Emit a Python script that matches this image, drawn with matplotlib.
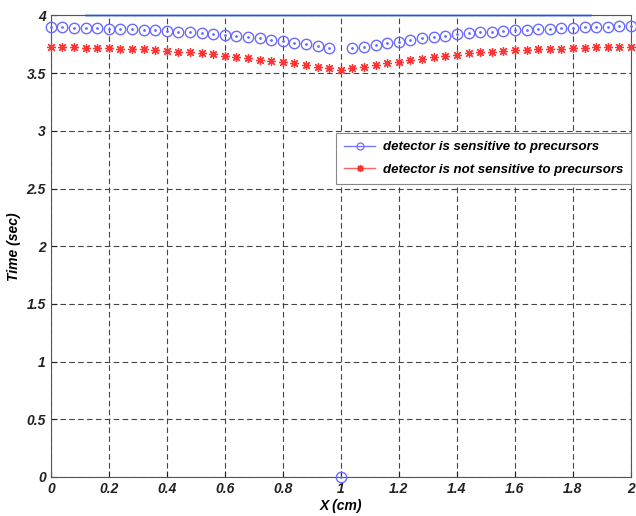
import matplotlib
matplotlib.use('Agg')
import matplotlib.pyplot as plt
from matplotlib.lines import Line2D
import numpy as np

plt.rcParams.update({
    'font.family': ['Liberation Sans', 'DejaVu Sans'],
    'font.weight': 'bold',
    'font.style': 'italic',
    'axes.labelweight': 'bold',
})

# ── data ──
x = [round(0.04 * i, 2) for i in range(51)]

t_sensitive = [3.897, 3.897, 3.894, 3.894, 3.891, 3.885, 3.882, 3.879, 3.876, 3.871,
               3.865, 3.859, 3.853, 3.845, 3.836, 3.827, 3.821, 3.810, 3.801, 3.790,
               3.775, 3.764, 3.749, 3.732, 3.715, 0.0,
               3.715, 3.729, 3.743, 3.758, 3.772, 3.787, 3.801, 3.816, 3.824, 3.836,
               3.845, 3.853, 3.859, 3.865, 3.871, 3.876, 3.879, 3.885, 3.888, 3.891,
               3.897, 3.899, 3.902, 3.905, 3.908]

t_not_sensitive = [3.723, 3.723, 3.723, 3.720, 3.720, 3.714, 3.711, 3.708, 3.706, 3.700,
                   3.691, 3.686, 3.680, 3.671, 3.663, 3.651, 3.640, 3.628, 3.617, 3.608,
                   3.600, 3.585, 3.571, 3.556, 3.542, 3.527,
                   3.542, 3.556, 3.571, 3.585, 3.600, 3.614, 3.625, 3.637, 3.648, 3.657,
                   3.671, 3.680, 3.686, 3.691, 3.697, 3.703, 3.706, 3.708, 3.711, 3.717,
                   3.720, 3.723, 3.723, 3.723, 3.723]

top_line_x = [0.12, 1.86]
top_line_y = [4.0, 4.0]

labels = ['detector is sensitive to precursors',
          'detector is not sensitive to precursors']

blue = '#6b6bff'
red = '#ff3535'

fig = plt.figure(figsize=(6.36, 5.16), dpi=100, facecolor='white')
ax = fig.add_axes([0.080, 0.0756, 0.912, 0.8945])

ax.plot(top_line_x, top_line_y, color='#a3bcf5', lw=2, clip_on=False, zorder=1)
ax.plot(x, t_sensitive, ls='none', marker='o', ms=7.5, mfc='none', mec=blue, mew=1.0,
        clip_on=False, zorder=3)
ax.plot(x, t_sensitive, ls='none', marker='.', ms=2, color=blue, clip_on=False, zorder=3)
ax.plot(x, t_not_sensitive, ls='none', marker=(8, 2, 0), ms=6.5, mec=red, mew=0.9,
        clip_on=False, zorder=3)

ax.set_xlim(0, 2)
ax.set_ylim(0, 4)
ax.set_xticks(np.arange(0, 2.01, 0.2))
ax.set_xticklabels(['0', '0.2', '0.4', '0.6', '0.8', '1', '1.2', '1.4', '1.6', '1.8', '2'])
ax.set_yticks(np.arange(0, 4.01, 0.5))
ax.set_yticklabels(['0', '0.5', '1', '1.5', '2', '2.5', '3', '3.5', '4'])
ax.tick_params(direction='in', labelsize=10, length=4, width=0.8, colors='#222222')
ax.grid(True, ls=(0, (5, 3)), color='#444444', lw=0.8)
for s in ax.spines.values():
    s.set_color('#555555')
    s.set_linewidth(0.8)

ax.set_xlabel('X (cm)', fontsize=10, labelpad=2)
ax.set_ylabel('Time (sec)', fontsize=10)
ax.yaxis.set_label_coords(-0.052, 0.5)

handles = [
    Line2D([], [], color='#7a7aff', lw=1, marker='o', ms=5, mfc='none', mec='#7a7aff'),
    Line2D([], [], color='#ff6060', lw=1, marker=(8, 2, 0), ms=5, mec='#ff3030'),
]
leg = ax.legend(handles, labels, loc='upper right', bbox_to_anchor=(1.0, 0.745),
                fontsize=9.5, frameon=True, fancybox=False, edgecolor='#888888',
                framealpha=1, handlelength=2.3, handletextpad=0.6, borderpad=0.6,
                labelspacing=0.8, borderaxespad=0)
leg.get_frame().set_linewidth(0.8)

fig.savefig('out.png', dpi=100, facecolor='white')
plt.close()
